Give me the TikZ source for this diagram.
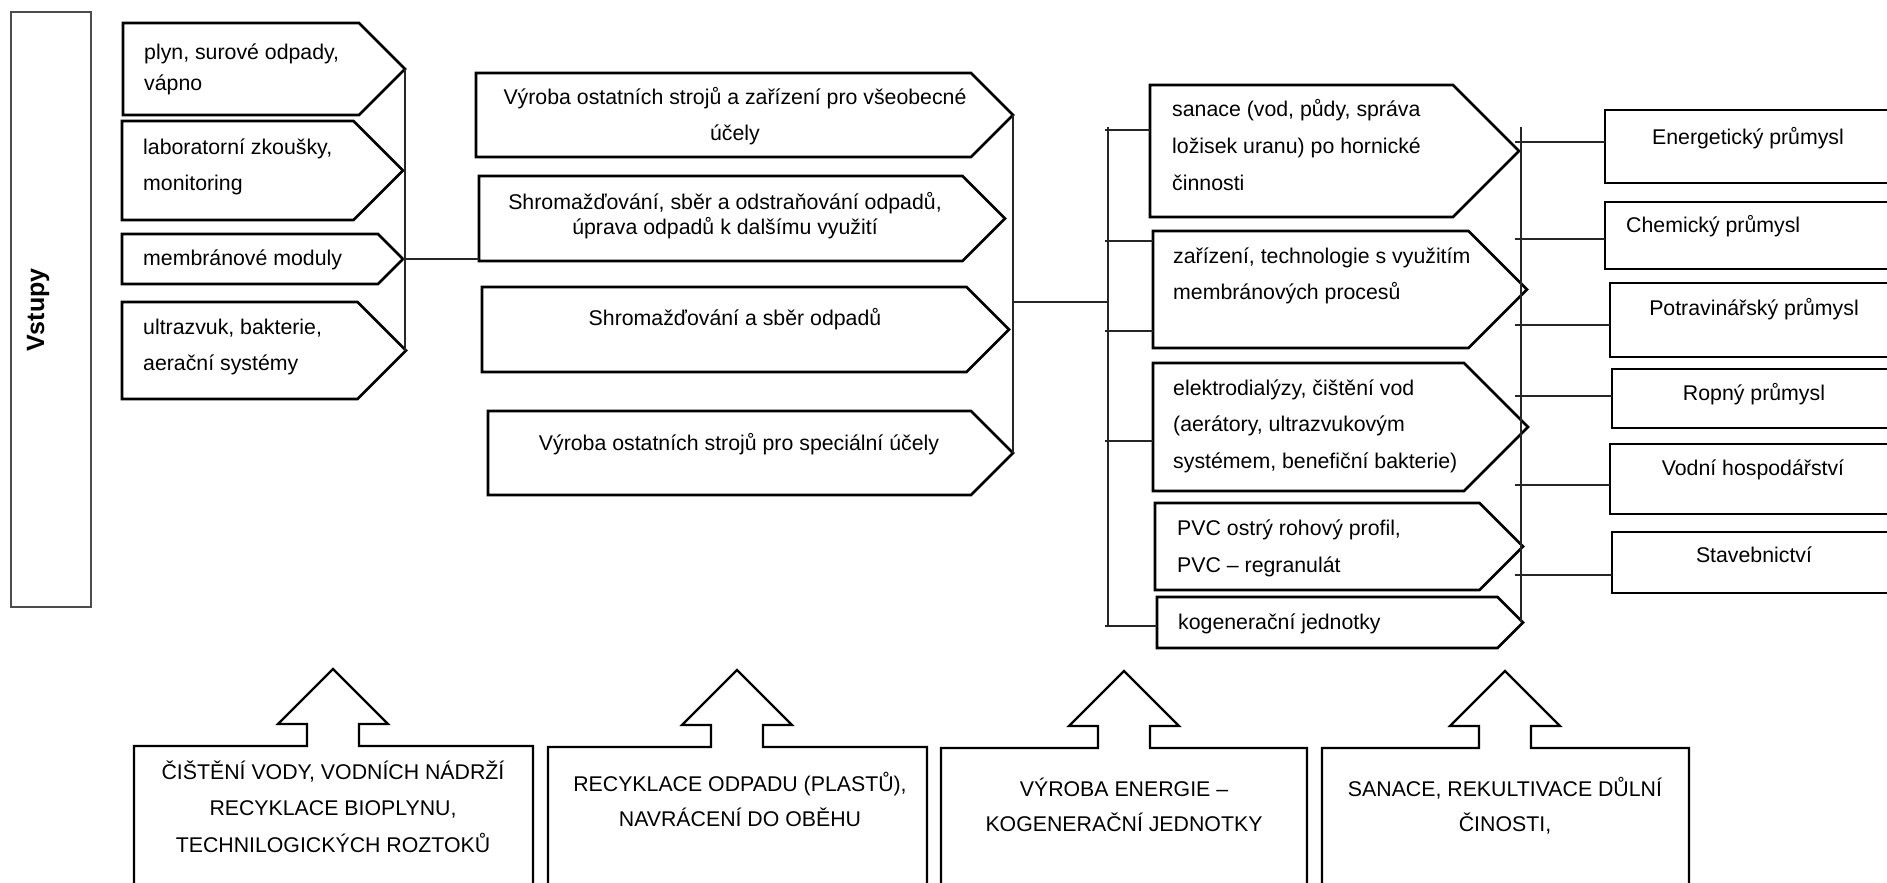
\documentclass[tikz,border=0pt]{standalone}
\usepackage{fontspec}
\setmainfont{Liberation Sans}
\usetikzlibrary{calc}

% pentagon arrow box: name, left, top, bottom, tip x (90 degree point)
\newcommand\pentshape[5]{%
  \draw[shapeline] (#2,#3) -- ({#5-(#4-#3)/2},#3) -- (#5,{(#3+#4)/2})
     -- ({#5-(#4-#3)/2},#4) -- (#2,#4) -- cycle;
  \coordinate (#1-tip) at (#5,{(#3+#4)/2});
  \coordinate (#1-w) at (#2,#3);}

% open rectangle running off the right edge: name, left, top, bottom
\newcommand\sectorbox[4]{%
  \draw[shapeline] (1900,#3) -- (#2,#3) -- (#2,#4) -- (1900,#4);
  \coordinate (#1-w) at (#2,#3);}

% box with an up arrow on its top edge: name, left, right, top, arrow x
\newcommand\upbox[5]{%
  \draw[upline] (#2,900) -- (#2,#4) -- ({#5-26},#4) -- ({#5-26},{#4-22})
     -- ({#5-55},{#4-22}) -- (#5,{#4-77}) -- ({#5+55},{#4-22})
     -- ({#5+26},{#4-22}) -- ({#5+26},#4) -- (#3,#4) -- (#3,900);
  \coordinate (#1-tip) at (#5,{#4-77});}

\begin{document}
\begin{tikzpicture}[x=1pt,y=-1pt,
  shapeline/.style={line width=2.6pt, line join=miter},
  upline/.style={line width=2.2pt, line join=miter},
  wire/.style={line width=1.3pt, draw=black!85},
  txt/.style={inner sep=0pt, font=\fontsize{21.3}{#1}\selectfont},
  txt/.default=36]
\useasboundingbox (0,0) rectangle (1887,883);
\clip (0,0) rectangle (1887,883);
\fill[white] (0,0) rectangle (1887,883);

% side label
\draw[line width=2pt, draw=black!70] (11,12) rectangle (91,607);
\node[inner sep=0pt, rotate=90, font=\fontsize{25}{30}\selectfont\bfseries] (vstupy) at (38,310) {Vstupy};

% inputs (multi-line texts are placed by the baseline of their last line)
\pentshape{p1}{123}{23}{115}{405}
\pentshape{p2}{122}{121}{220}{403}
\pentshape{p3}{122}{234}{284}{403}
\pentshape{p4}{122}{302}{399}{406}
\node[txt=32, align=left, anchor=base west] (p1t) at (144,91) {plyn, surové odpady,\\vápno};
\node[txt, align=left, anchor=base west] (p2t) at (143,190) {laboratorní zkoušky,\\monitoring};
\node[txt, anchor=base west] (p3t) at (143,265) {membránové moduly};
\node[txt, align=left, anchor=base west] (p4t) at (143,370) {ultrazvuk, bakterie,\\aerační systémy};

% activities
\pentshape{m1}{476}{73}{157}{1013}
\pentshape{m2}{479}{176}{261}{1005}
\pentshape{m3}{482}{287}{372}{1009}
\pentshape{m4}{488}{411}{495}{1013}
\node[txt, align=center, anchor=base] (m1t) at (735,140) {Výroba ostatních strojů a zařízení pro všeobecné\\účely};
\node[txt=25, align=center, anchor=base] (m2t) at (725,234) {Shromažďování, sběr a odstraňování odpadů,\\úprava odpadů k dalšímu využití};
\node[txt, anchor=base] (m3t) at (735,325) {Shromažďování a sběr odpadů};
\node[txt, anchor=base] (m4t) at (739,450) {Výroba ostatních strojů pro speciální účely};

% products
\pentshape{r1}{1150}{85}{217}{1519}
\pentshape{r2}{1153}{231}{348}{1527}
\pentshape{r3}{1153}{363}{491}{1528}
\pentshape{r4}{1155}{503}{590}{1523}
\pentshape{r5}{1157}{597}{648}{1523}
\node[txt=37, align=left, anchor=base west] (r1t) at (1172,190) {sanace (vod, půdy, správa\\ložisek uranu) po hornické\\činnosti};
\node[txt, align=left, anchor=base west] (r2t) at (1173,299) {zařízení, technologie s využitím\\membránových procesů};
\node[txt=36.5, align=left, anchor=base west] (r3t) at (1173,468) {elektrodialýzy, čištění vod\\(aerátory, ultrazvukovým\\systémem, benefiční bakterie)};
\node[txt=37, align=left, anchor=base west] (r4t) at (1177,572) {PVC ostrý rohový profil,\\PVC – regranulát};
\node[txt, anchor=base west] (r5t) at (1178,629) {kogenerační jednotky};

% sectors
\sectorbox{e1}{1605}{110}{183}
\sectorbox{e2}{1605}{202}{269}
\sectorbox{e3}{1610}{283}{357}
\sectorbox{e4}{1612}{369}{428}
\sectorbox{e5}{1610}{444}{514}
\sectorbox{e6}{1612}{532}{593}
\node[txt, anchor=base] (e1t) at (1748,144) {Energetický průmysl};
\node[txt, anchor=base west] (e2t) at (1626,232) {Chemický průmysl};
\node[txt, anchor=base] (e3t) at (1754,315) {Potravinářský průmysl};
\node[txt, anchor=base] (e4t) at (1754,400) {Ropný průmysl};
\node[txt, anchor=base] (e5t) at (1753,475) {Vodní hospodářství};
\node[txt, anchor=base] (e6t) at (1754,562) {Stavebnictví};

% connectors: inputs -> activities
\draw[wire] (p1-tip) -- (p1-tip |- p4-tip);
\draw[wire] (p3-tip) -- (p3-tip -| m2-w);

% activities -> products
\coordinate (mjoin) at (1013,302);
\coordinate (lbus-top) at (1108,127);
\coordinate (lbus-bot) at (1108,626);
\draw[wire] (m1-tip) -- (m1-tip |- m4-tip);
\draw[wire] (mjoin) -- (mjoin -| lbus-top);
\draw[wire] (lbus-top) -- (lbus-bot);
\foreach \yy/\nn in {130/r1, 241/r2, 331/r2, 441/r3, 626/r5}
  \draw[wire] ([xshift=-3pt]lbus-top |- 0,\yy) -- (\nn-w |- 0,\yy);

% products -> sectors
\coordinate (rbus-top) at (1521,127);
\coordinate (rbus-bot) at (1521,622);
\draw[wire] (rbus-top) -- (rbus-bot);
\foreach \yy/\nn in {142/e1, 239/e2, 325/e3, 396/e4, 485/e5, 575/e6}
  \draw[wire] ([xshift=-6pt]rbus-top |- 0,\yy) -- (\nn-w |- 0,\yy);

% application areas
\upbox{b1}{134}{533}{746}{333}
\upbox{b2}{548}{927}{747}{737}
\upbox{b3}{941}{1307}{748}{1124}
\upbox{b4}{1322}{1689}{748}{1505}
\node[txt=36.5, align=center, anchor=base] (b1t) at (333,852) {ČIŠTĚNÍ VODY, VODNÍCH NÁDRŽÍ\\RECYKLACE BIOPLYNU,\\TECHNILOGICKÝCH ROZTOKŮ};
\node[txt=35, align=center, anchor=base] (b2t) at (740,826) {RECYKLACE ODPADU (PLASTŮ),\\NAVRÁCENÍ DO OBĚHU};
\node[txt=35, align=center, anchor=base] (b3t) at (1124,831) {VÝROBA ENERGIE –\\KOGENERAČNÍ JEDNOTKY};
\node[txt=35, align=center, anchor=base] (b4t) at (1505,831) {SANACE, REKULTIVACE DŮLNÍ\\ČINOSTI,};
\end{tikzpicture}
\end{document}
